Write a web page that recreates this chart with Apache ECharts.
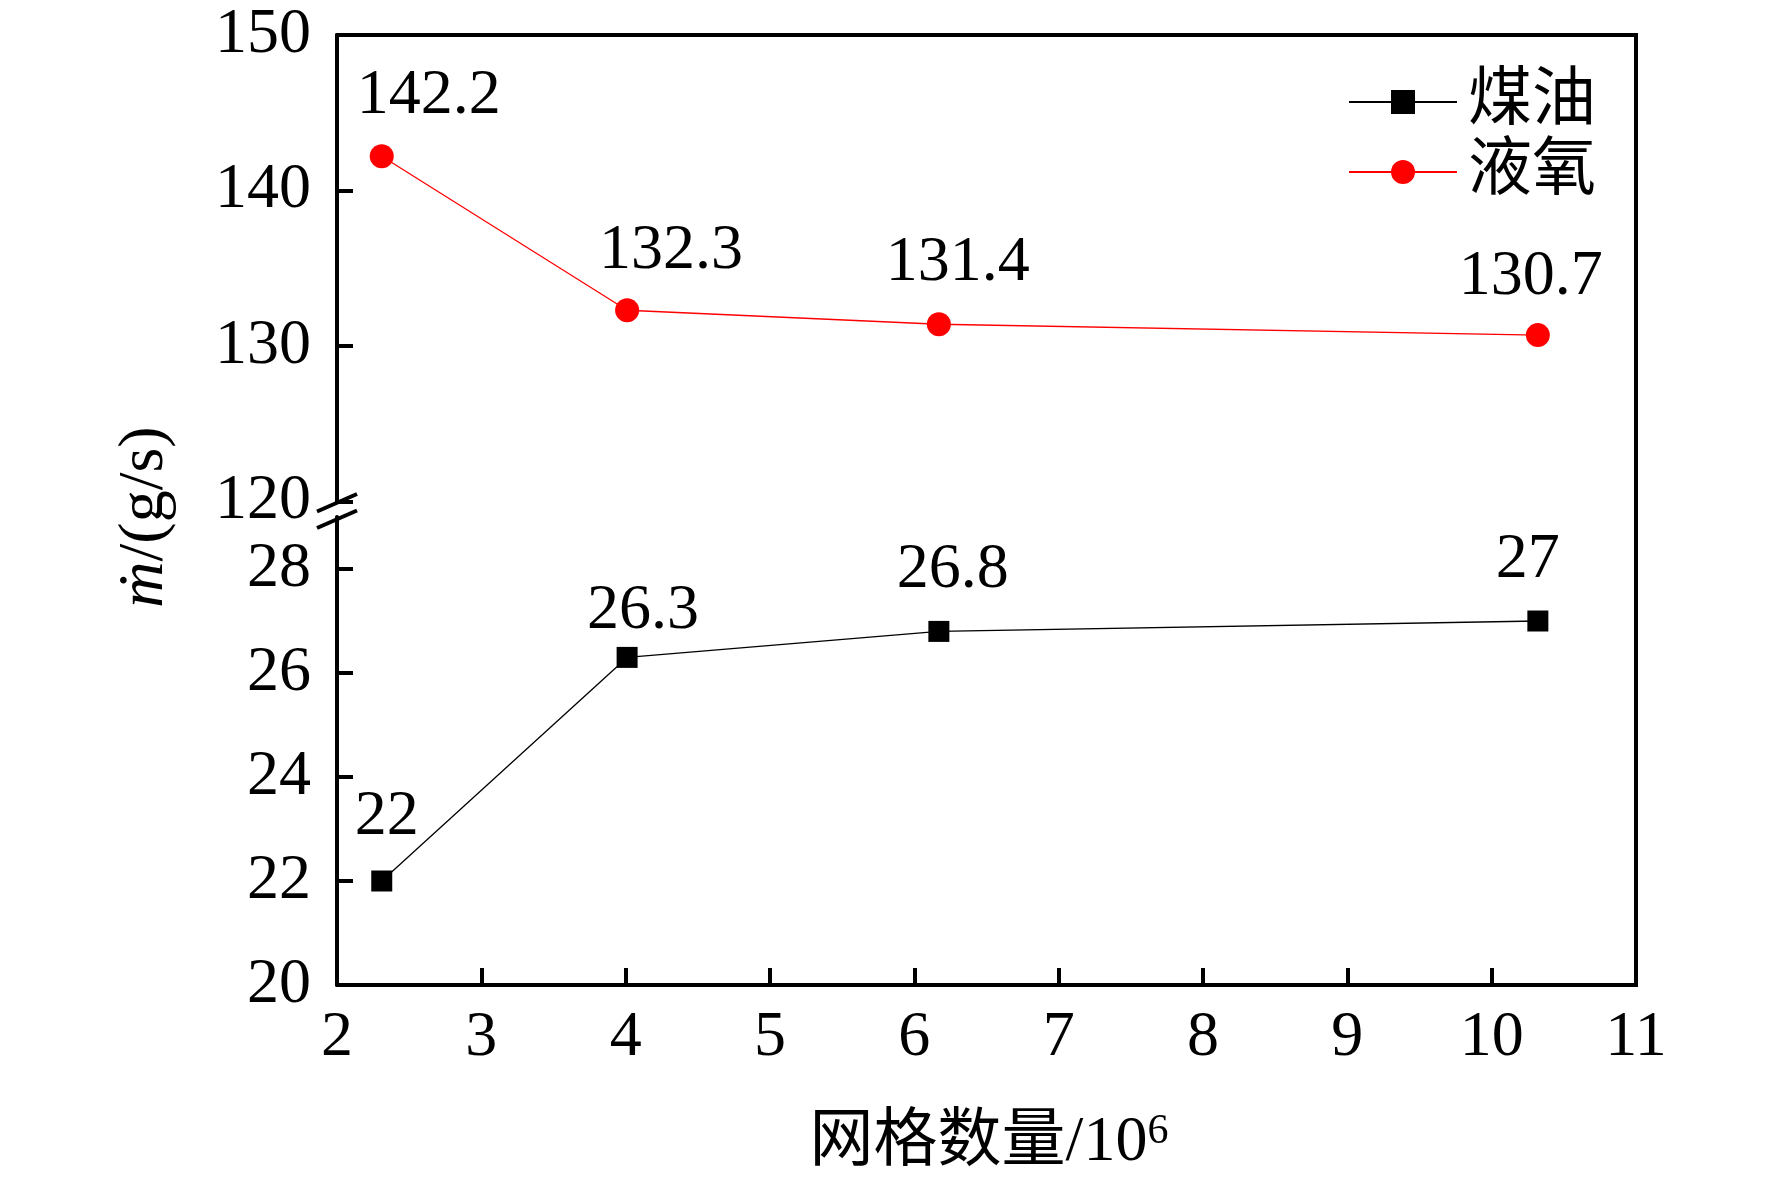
<!DOCTYPE html>
<html>
<head>
<meta charset="utf-8">
<script src="https://cdn.jsdelivr.net/npm/echarts@6/dist/echarts.min.js"></script>
<style>
html,body{margin:0;padding:0;background:#fff;}
#c{width:1772px;height:1180px;}
</style>
</head>
<body>
<div id="c"></div>
<script>
// ---- data ----
const gridCounts = [2.31, 4.01, 6.17, 10.32];      // 网格数量 / 10^6
const kerosene   = [22, 26.3, 26.8, 27];            // 煤油
const lox        = [142.2, 132.3, 131.4, 130.7];    // 液氧
const seriesNames = ['煤油', '液氧'];
const xTicks = [2, 3, 4, 5, 6, 7, 8, 9, 10, 11];
const yTicksUpper = [120, 130, 140, 150];
const yTicksLower = [20, 22, 24, 26, 28];

// ---- layout / style constants ----
const L = 337, R = 1636;
const UT = 35, UB = 501.5;     // upper panel
const LT = 517, LB = 985;      // lower panel
const FONT = 'Liberation Serif, "Times New Roman", "Noto Sans CJK SC", serif';
const FS = 64;
const loxNudge = [[47, -60], [44, -59], [19, -61], [-7, -58]];
const kerNudge = [[5, -64], [16, -46], [14, -61], [-10, -61]];

const toPts = ys => ys.map((y, i) => [gridCounts[i], y]);

function mkData(ys, nudge) {
  return toPts(ys).map((v, i) => ({
    value: v,
    label: { offset: nudge[i] }
  }));
}

const axisLine = { show: true, lineStyle: { color: '#000', width: 4 } };
const labelStyle = { color: '#000', fontFamily: FONT, fontSize: FS };

const chart = echarts.init(document.getElementById('c'));
chart.setOption({
  animation: false,
  backgroundColor: '#fff',
  grid: [
    { left: L, width: R - L, top: UT, height: UB - UT },
    { left: L, width: R - L, top: LT, height: LB - LT }
  ],
  xAxis: [
    { gridIndex: 0, type: 'value', min: 2, max: 11, interval: 1, position: 'top',
      axisLine: axisLine, axisTick: { show: false }, axisLabel: { show: false },
      splitLine: { show: false } },
    { gridIndex: 1, type: 'value', min: 2, max: 11, interval: 1, position: 'bottom',
      axisLine: axisLine,
      axisTick: { show: true, inside: true, length: 17, lineStyle: { color: '#000', width: 4 } },
      axisLabel: Object.assign({ margin: 21, customValues: xTicks }, labelStyle),
      splitLine: { show: false } }
  ],
  yAxis: [
    { gridIndex: 0, type: 'value', min: 120, max: 150, interval: 10, position: 'left',
      axisLine: axisLine,
      axisTick: { show: true, inside: true, length: 16, customValues: yTicksUpper,
                  lineStyle: { color: '#000', width: 4 } },
      axisLabel: Object.assign({ margin: 26, customValues: yTicksUpper }, labelStyle),
      splitLine: { show: false } },
    { gridIndex: 1, type: 'value', min: 20, max: 29, interval: 2, position: 'left',
      axisLine: axisLine,
      axisTick: { show: true, inside: true, length: 16, customValues: yTicksLower,
                  lineStyle: { color: '#000', width: 4 } },
      axisLabel: Object.assign({ margin: 26, customValues: yTicksLower }, labelStyle),
      splitLine: { show: false } }
  ],
  legend: {
    orient: 'vertical', left: 1343, top: 65, itemGap: 6,
    itemWidth: 108, itemHeight: 30,
    data: seriesNames,
    textStyle: { color: '#000', fontFamily: FONT, fontSize: FS, lineHeight: 64, padding: [0, 0, 0, 6] }
  },
  series: [
    { name: seriesNames[0], type: 'line', xAxisIndex: 1, yAxisIndex: 1,
      data: mkData(kerosene, kerNudge),
      symbol: 'rect', symbolSize: 21,
      itemStyle: { color: '#000' }, lineStyle: { color: '#000', width: 1.3 },
      label: { show: true, position: 'inside', align: 'center', verticalAlign: 'middle',
               color: '#000', fontFamily: FONT, fontSize: FS,
               formatter: p => String(p.value[1]) } },
    { name: seriesNames[1], type: 'line', xAxisIndex: 0, yAxisIndex: 0,
      data: mkData(lox, loxNudge),
      symbol: 'circle', symbolSize: 24,
      itemStyle: { color: '#ff0000' }, lineStyle: { color: '#ff0000', width: 1.3 },
      label: { show: true, position: 'inside', align: 'center', verticalAlign: 'middle',
               color: '#000', fontFamily: FONT, fontSize: FS,
               formatter: p => String(p.value[1]) } }
  ],
  graphic: [
    // right frame (continuous across the break)
    { type: 'line', shape: { x1: R, y1: UT - 2, x2: R, y2: LB + 2 }, style: { stroke: '#000', lineWidth: 4 }, z: 10 },
    // axis break marks
    { type: 'line', shape: { x1: 317, y1: 511.5, x2: 357, y2: 494 }, style: { stroke: '#000', lineWidth: 4 }, z: 10 },
    { type: 'line', shape: { x1: 317, y1: 528, x2: 357, y2: 510.5 }, style: { stroke: '#000', lineWidth: 4 }, z: 10 },
    // y axis title
    { type: 'text', x: 145, y: 517, rotation: Math.PI / 2,
      style: { text: '{it|ṁ}{n|/(g/s)}', align: 'center', verticalAlign: 'middle',
        rich: {
          it: { fontFamily: FONT, fontStyle: 'italic', fontSize: FS, fill: '#000' },
          n: { fontFamily: FONT, fontSize: FS, fill: '#000' }
        } } },
    // x axis title
    { type: 'text', x: 989, y: 1143,
      style: { text: '{a|网格数量/10}{s|6}', align: 'center', verticalAlign: 'middle',
        rich: {
          a: { fontFamily: FONT, fontSize: FS, lineHeight: 64, fill: '#000' },
          s: { fontFamily: FONT, fontSize: 42, lineHeight: 42, verticalAlign: 'top', fill: '#000' }
        } } }
  ]
});
</script>
</body>
</html>
